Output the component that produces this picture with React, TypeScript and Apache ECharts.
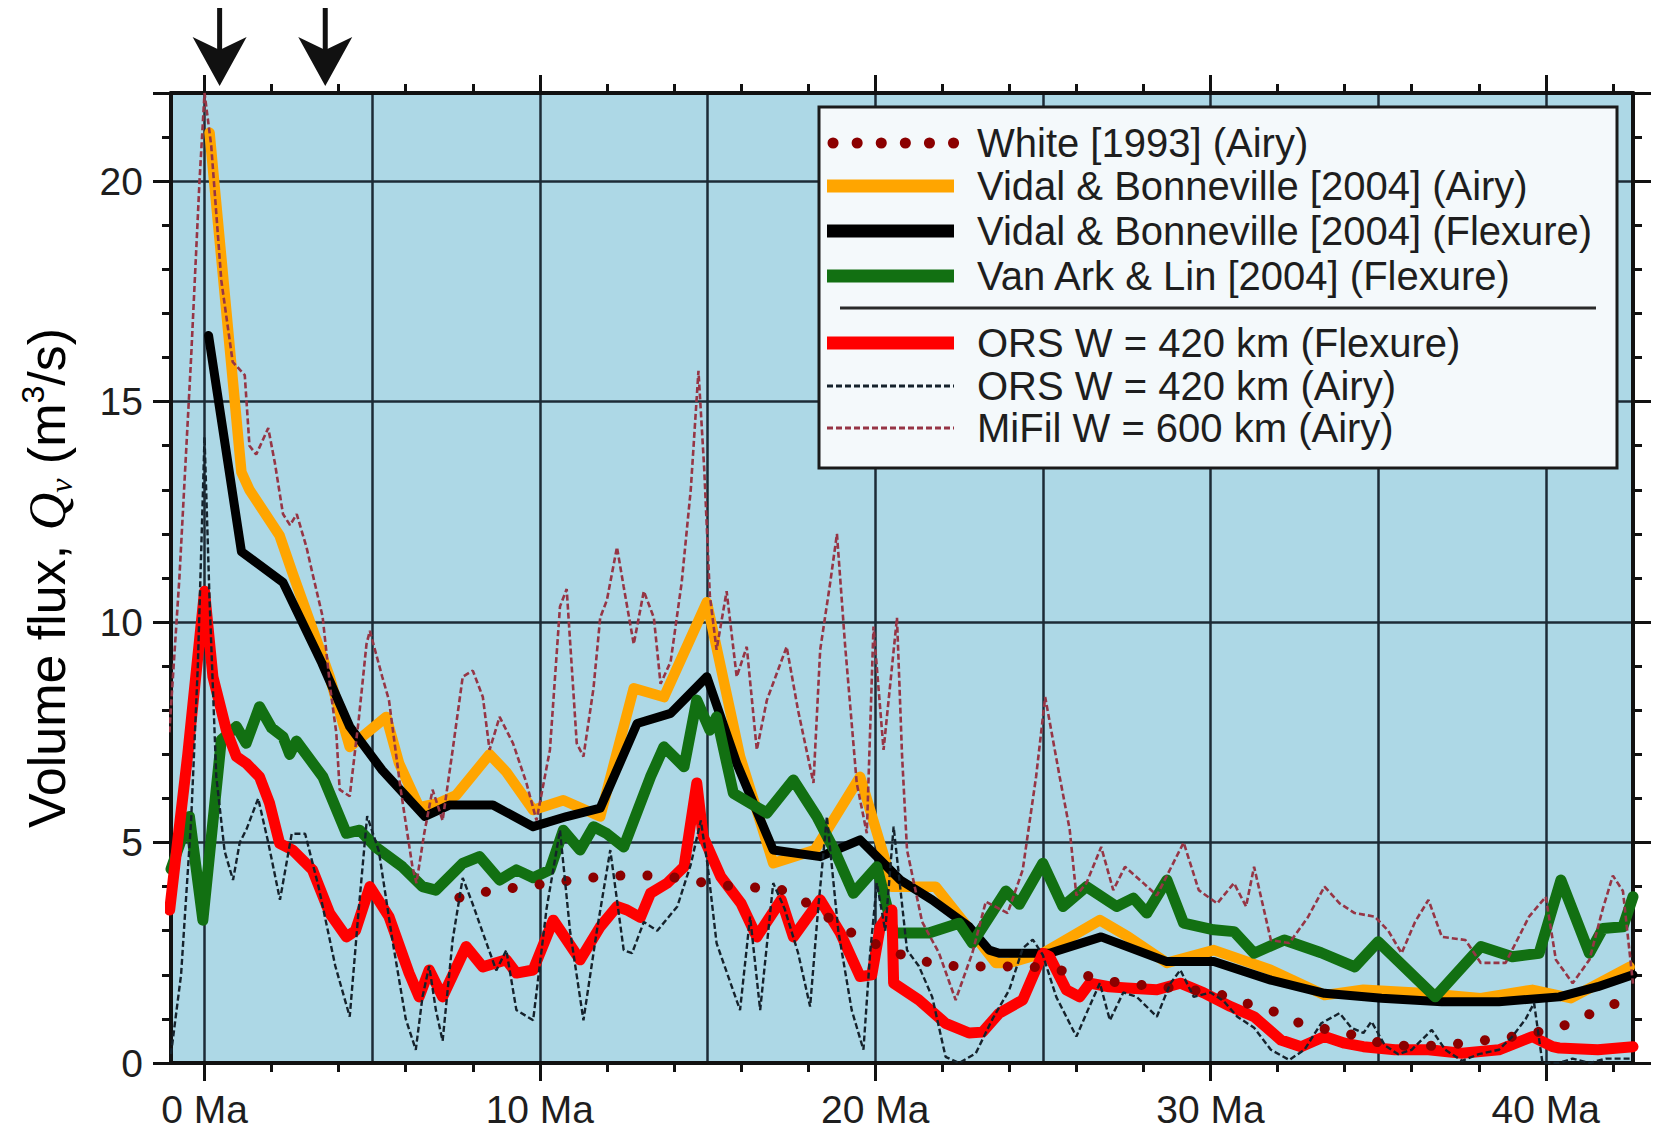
import React, { useEffect, useRef } from "react";
import * as echarts from "echarts";

type Pt = [number, number];

// Volume flux (m^3/s) against age (Ma) for each model
const WHITE_1993: Pt[] = [
  [7.6, 3.75], [8.5, 3.9], [9.5, 4.0], [10.5, 4.1], [11.5, 4.2], [12.4, 4.25], [13.3, 4.25],
  [14.1, 4.2], [14.8, 4.1], [15.6, 4.02], [16.4, 3.98], [17.2, 3.93], [17.9, 3.66], [18.6, 3.3],
  [19.3, 2.95], [20.0, 2.7], [20.8, 2.45], [21.5, 2.3], [22.3, 2.2], [23.1, 2.19], [23.9, 2.19],
  [24.7, 2.18], [25.4, 2.12], [26.2, 2.0], [27.0, 1.85], [27.8, 1.78], [28.6, 1.72], [29.4, 1.66],
  [30.2, 1.58], [30.9, 1.39], [31.8, 1.2], [32.5, 0.94], [33.3, 0.79], [34.1, 0.67], [34.8, 0.5],
  [35.5, 0.4], [36.4, 0.38], [37.2, 0.42], [38.0, 0.5], [38.8, 0.57], [39.6, 0.68], [40.4, 0.8],
  [41.1, 1.05], [41.8, 1.25], [42.5, 1.5],
];

const VB_AIRY: Pt[] = [
  [0.15, 21.1], [1.1, 13.4], [1.34, 13.0], [2.24, 11.96], [2.63, 11.1], [3.73, 8.76], [4.33, 7.17],
  [4.7, 7.4], [5.42, 7.85], [5.8, 6.8], [6.4, 5.8], [7.0, 5.9], [7.5, 6.07], [8.5, 7.0], [9.0, 6.6],
  [9.8, 5.74], [10.7, 5.96], [11.8, 5.59], [12.8, 8.5], [13.7, 8.3], [14.98, 10.45], [15.97, 6.95],
  [16.96, 4.53], [18.2, 4.83], [19.55, 6.49], [20.3, 4.6], [20.5, 4.0], [21.8, 4.0], [22.9, 2.95],
  [23.6, 2.27], [24.0, 2.27], [25.0, 2.49], [26.7, 3.24], [27.55, 2.86], [28.7, 2.27], [30.1, 2.56],
  [31.8, 2.11], [33.4, 1.54], [34.56, 1.66], [36.3, 1.59], [38.06, 1.47], [39.6, 1.66], [40.75, 1.47],
  [42.5, 2.18],
];

const VB_FLEX: Pt[] = [
  [0.12, 16.5], [1.1, 11.6], [2.34, 10.9], [3.5, 9.07], [4.33, 7.63], [5.3, 6.64], [6.57, 5.59],
  [7.3, 5.85], [8.6, 5.85], [9.8, 5.36], [10.8, 5.59], [11.8, 5.78], [12.9, 7.7], [13.9, 7.93],
  [14.98, 8.76], [15.87, 6.8], [16.96, 4.83], [18.36, 4.68], [19.55, 5.06], [20.75, 4.15], [21.7, 3.7],
  [22.8, 3.09], [23.4, 2.56], [23.7, 2.49], [24.7, 2.49], [25.2, 2.49], [26.74, 2.86], [28.7, 2.3],
  [30.1, 2.3], [31.8, 1.88], [33.4, 1.58], [35.1, 1.47], [36.9, 1.39], [38.6, 1.39], [40.4, 1.5],
  [41.55, 1.73], [42.6, 2.0],
];

const VANARK_FLEX: Pt[] = [
  [-1.0, 4.4], [-0.45, 5.59], [-0.05, 3.24], [0.5, 7.33], [0.95, 7.63], [1.24, 7.25], [1.64, 8.08],
  [2.0, 7.6], [2.34, 7.4], [2.54, 7.0], [2.74, 7.3], [3.53, 6.49], [4.23, 5.21], [4.63, 5.28],
  [5.1, 4.9], [5.9, 4.45], [6.5, 4.0], [6.9, 3.92], [7.7, 4.53], [8.2, 4.68], [8.8, 4.15], [9.3, 4.38],
  [9.8, 4.2], [10.3, 4.38], [10.7, 5.28], [11.2, 4.83], [11.6, 5.36], [12.0, 5.2], [12.5, 4.9],
  [13.3, 6.49], [13.7, 7.17], [14.3, 6.72], [14.68, 8.23], [15.07, 7.55], [15.27, 7.85], [15.77, 6.12],
  [16.77, 5.67], [17.56, 6.42], [18.26, 5.59], [18.8, 4.8], [19.35, 3.85], [20.05, 4.45], [20.55, 2.95],
  [21.6, 2.95], [22.5, 3.17], [22.9, 2.72], [23.9, 3.9], [24.3, 3.6], [25.0, 4.53], [25.6, 3.55],
  [26.3, 4.0], [27.2, 3.55], [27.7, 3.74], [28.1, 3.4], [28.7, 4.15], [29.2, 3.17], [30.1, 3.02],
  [30.7, 2.98], [31.3, 2.49], [32.2, 2.79], [33.3, 2.5], [34.3, 2.18], [35.0, 2.75], [36.7, 1.5],
  [38.06, 2.64], [39.0, 2.41], [39.8, 2.49], [40.45, 4.15], [41.3, 2.49], [41.7, 3.05], [42.3, 3.09],
  [42.6, 3.77],
];

const ORS_FLEX: Pt[] = [
  [-1.04, 3.47], [-0.5, 7.0], [0.0, 10.7], [0.25, 8.76], [0.65, 7.55], [0.95, 6.95], [1.24, 6.8],
  [1.64, 6.49], [1.94, 5.89], [2.24, 4.98], [2.63, 4.83], [3.22, 4.38], [3.73, 3.4], [4.23, 2.86],
  [4.5, 3.0], [4.93, 4.0], [5.5, 3.32], [6.1, 2.04], [6.4, 1.5], [6.7, 2.11], [7.1, 1.5], [7.8, 2.64],
  [8.3, 2.18], [9.0, 2.34], [9.3, 2.04], [9.8, 2.11], [10.4, 3.24], [11.2, 2.34], [11.8, 3.09],
  [12.3, 3.55], [12.6, 3.47], [13.0, 3.3], [13.3, 3.85], [13.8, 4.08], [14.3, 4.45], [14.68, 6.35],
  [14.87, 5.13], [15.4, 4.22], [16.0, 3.62], [16.47, 2.86], [17.2, 3.7], [17.56, 2.86], [18.36, 3.7],
  [18.96, 2.95], [19.55, 1.96], [19.9, 2.0], [20.15, 3.09], [20.5, 3.47], [20.55, 1.81], [21.3, 1.43],
  [22.1, 0.9], [22.8, 0.68], [23.2, 0.7], [23.7, 1.13], [24.4, 1.43], [25.0, 2.49], [25.2, 2.41],
  [25.7, 1.66], [26.1, 1.5], [26.4, 1.81], [26.97, 1.73], [27.5, 1.7], [28.4, 1.66], [29.1, 1.81],
  [29.8, 1.59], [30.6, 1.28], [31.3, 1.05], [32.1, 0.52], [32.7, 0.37], [33.4, 0.6], [34.0, 0.45],
  [34.56, 0.37], [35.5, 0.3], [36.5, 0.3], [37.5, 0.22], [38.6, 0.3], [39.6, 0.6], [40.2, 0.37],
  [40.4, 0.34], [41.55, 0.3], [42.6, 0.37],
];

const ORS_AIRY: Pt[] = [
  [-1.0, 0.2], [-0.7, 2.0], [-0.4, 5.5], [-0.2, 9.0], [0.0, 14.2], [0.15, 10.5], [0.35, 6.5],
  [0.6, 4.8], [0.85, 4.15], [1.05, 5.0], [1.25, 5.3], [1.6, 6.0], [1.9, 5.0], [2.25, 3.7], [2.6, 5.2],
  [3.0, 5.2], [3.4, 4.0], [3.9, 2.2], [4.33, 1.05], [4.6, 3.5], [4.85, 5.6], [5.2, 4.8], [5.6, 2.8],
  [6.0, 1.0], [6.3, 0.3], [6.5, 1.5], [6.7, 2.2], [6.9, 1.2], [7.1, 0.5], [7.4, 2.8], [7.7, 4.2],
  [8.0, 3.6], [8.3, 2.95], [8.7, 2.1], [9.0, 2.56], [9.3, 1.2], [9.8, 0.97], [10.2, 3.5], [10.6, 5.28],
  [10.9, 3.0], [11.3, 0.97], [11.7, 3.0], [12.1, 4.83], [12.5, 2.56], [12.75, 2.49], [13.1, 3.2],
  [13.5, 3.0], [14.1, 3.55], [14.5, 4.5], [14.8, 5.5], [15.0, 4.5], [15.27, 2.72], [15.6, 2.0],
  [15.97, 1.2], [16.27, 3.32], [16.57, 1.2], [16.96, 4.08], [17.3, 3.5], [17.7, 2.5], [18.06, 1.28],
  [18.3, 3.5], [18.56, 5.59], [18.9, 3.0], [19.3, 1.2], [19.65, 0.3], [19.85, 2.5], [20.05, 4.08],
  [20.3, 3.0], [20.55, 5.36], [20.95, 2.56], [21.3, 2.2], [21.7, 1.5], [22.1, 0.14], [22.5, 0.0],
  [23.0, 0.22], [23.5, 1.0], [24.0, 1.66], [24.4, 2.6], [24.7, 2.8], [25.0, 2.45], [25.4, 1.5],
  [26.0, 0.6], [26.4, 1.3], [26.7, 1.81], [27.0, 0.97], [27.4, 1.6], [27.8, 1.5], [28.4, 1.05],
  [28.8, 1.8], [29.1, 2.11], [29.5, 1.5], [30.0, 1.6], [30.4, 1.4], [30.8, 1.05], [31.3, 0.8],
  [31.8, 0.3], [32.35, 0.07], [32.8, 0.3], [33.3, 0.9], [33.85, 1.13], [34.2, 0.8], [34.56, 0.68],
  [34.8, 0.94], [35.2, 0.4], [35.6, 0.2], [36.0, 0.3], [36.6, 0.75], [37.0, 0.3], [37.5, 0.05],
  [38.0, 0.2], [38.6, 0.3], [39.0, 0.6], [39.4, 1.0], [39.65, 1.36], [39.9, 0.0], [40.4, 0.0],
  [40.8, 0.1], [41.3, 0.0], [41.8, 0.1], [42.6, 0.1],
];

const MIFIL_AIRY: Pt[] = [
  [-1.05, 7.5], [-0.75, 11.0], [-0.4, 16.0], [-0.15, 20.0], [0.0, 22.0], [0.2, 20.8], [0.5, 17.75],
  [0.84, 15.9], [1.2, 15.6], [1.34, 14.0], [1.54, 13.8], [1.9, 14.4], [2.1, 13.6], [2.34, 12.45],
  [2.55, 12.2], [2.75, 12.45], [3.04, 11.7], [3.22, 11.1], [3.52, 10.13], [3.75, 8.5], [3.93, 7.48],
  [4.03, 6.2], [4.33, 6.05], [4.6, 7.8], [4.83, 9.5], [4.93, 9.8], [5.3, 8.76], [5.5, 8.23],
  [5.85, 6.2], [6.2, 4.45], [6.32, 4.08], [6.55, 5.2], [6.8, 6.2], [7.1, 5.5], [7.4, 7.1], [7.7, 8.76],
  [8.0, 8.9], [8.3, 8.3], [8.5, 7.1], [8.8, 7.85], [9.2, 7.25], [9.6, 6.35], [9.9, 5.5], [10.3, 7.1],
  [10.6, 10.35], [10.8, 10.75], [11.1, 7.25], [11.3, 6.95], [11.6, 8.5], [11.8, 10.1], [12.0, 10.5],
  [12.3, 11.7], [12.5, 10.8], [12.8, 9.5], [13.1, 10.7], [13.4, 10.1], [13.6, 8.6], [13.9, 9.1],
  [14.23, 10.9], [14.5, 13.0], [14.73, 15.7], [14.9, 13.5], [15.07, 10.6], [15.27, 9.37],
  [15.57, 10.7], [15.87, 8.76], [16.17, 9.44], [16.47, 7.1], [16.77, 8.23], [17.36, 9.44], [17.7, 8.0],
  [18.16, 6.35], [18.36, 9.37], [18.66, 10.9], [18.86, 12.0], [19.1, 9.5], [19.45, 6.35], [19.75, 5.21],
  [19.95, 9.9], [20.25, 7.1], [20.65, 10.1], [20.8, 7.0], [20.95, 4.83], [21.4, 3.2], [21.9, 2.5],
  [22.4, 1.43], [22.9, 2.5], [23.3, 3.66], [23.95, 3.4], [24.4, 4.38], [24.8, 6.5], [25.07, 8.3],
  [25.5, 6.5], [25.8, 5.3], [26.0, 3.8], [26.3, 4.08], [26.74, 4.9], [27.1, 3.92], [27.45, 4.45],
  [28.0, 4.08], [28.4, 3.8], [28.8, 4.4], [29.2, 5.0], [29.65, 3.92], [30.2, 3.62], [30.7, 4.08],
  [31.06, 3.55], [31.3, 4.45], [31.8, 2.79], [32.35, 2.72], [32.9, 3.3], [33.4, 4.0], [33.85, 3.62],
  [34.3, 3.4], [34.9, 3.32], [35.3, 3.0], [35.7, 2.49], [36.1, 3.2], [36.5, 3.7], [36.9, 2.86],
  [37.6, 2.79], [38.06, 2.27], [38.8, 2.27], [39.5, 3.32], [40.0, 3.77], [40.3, 2.34], [40.8, 1.81],
  [41.3, 2.34], [41.7, 3.5], [42.0, 4.25], [42.3, 3.9], [42.6, 1.8],
];

// Axis ticks and labels
const AGE_LABELS = [0, 10, 20, 30, 40];
const AGE_MINOR = [2, 4, 6, 8, 12, 14, 16, 18, 22, 24, 26, 28, 32, 34, 36, 38, 42];
const ARROW_AGES = [0.45, 3.6];

const X_MIN = -1;
const X_MAX = 42.6;
const Y_MIN = 0;
const Y_MAX = 22;

const FONT = '"Liberation Sans", Arial, Helvetica, sans-serif';
const INK = "#1e1e1e";
const FRAME = "#111111";
const GRID_INK = "#1d2b36";

type LineKind = "dots" | "thick" | "dashed";
interface Model {
  name: string;
  data: Pt[];
  color: string;
  kind: LineKind;
  width: number;
  z: number;
}

const MODELS: Model[] = [
  { name: "White [1993] (Airy)", data: WHITE_1993, color: "#8b0000", kind: "dots", width: 10, z: 8 },
  { name: "Vidal & Bonneville [2004] (Airy)", data: VB_AIRY, color: "#ffa500", kind: "thick", width: 10.5, z: 3 },
  { name: "Vidal & Bonneville [2004] (Flexure)", data: VB_FLEX, color: "#000000", kind: "thick", width: 9, z: 4 },
  { name: "Van Ark & Lin [2004] (Flexure)", data: VANARK_FLEX, color: "#127012", kind: "thick", width: 11, z: 5 },
  { name: "ORS W = 420 km (Flexure)", data: ORS_FLEX, color: "#ff0000", kind: "thick", width: 11, z: 6 },
  { name: "ORS W = 420 km (Airy)", data: ORS_AIRY, color: "#15222c", kind: "dashed", width: 2.4, z: 9 },
  { name: "MiFil W = 600 km (Airy)", data: MIFIL_AIRY, color: "#963545", kind: "dashed", width: 2.6, z: 10 },
];

const DOT_DASH = [0.1, 27];
const THIN_DASH = [6, 3];

function lineStyleFor(m: Model) {
  if (m.kind === "dots") {
    return { color: m.color, width: m.width, type: DOT_DASH, cap: "round" as const };
  }
  if (m.kind === "dashed") {
    return { color: m.color, width: m.width, type: THIN_DASH };
  }
  return { color: m.color, width: m.width, join: "round" as const, cap: "round" as const };
}

export default function App() {
  const ref = useRef<HTMLDivElement>(null);

  useEffect(() => {
    if (!ref.current) return;
    const chart = echarts.init(ref.current, undefined, { renderer: "svg" });

    const xBase = { type: "value" as const, min: X_MIN, max: X_MAX, gridIndex: 0 };
    const tickStyle = { color: FRAME, width: 3 };
    const frameLine = { show: true, onZero: false, lineStyle: { color: FRAME, width: 4 } };
    const noLine = { show: false, onZero: false };

    const option: any = {
      animation: false,
      backgroundColor: "#ffffff",
      grid: {
        left: 171,
        top: 93,
        width: 1462,
        height: 970,
        show: true,
        backgroundColor: "#add8e6",
        borderWidth: 0,
      },
      xAxis: [
        {
          ...xBase,
          position: "bottom",
          axisLine: frameLine,
          axisTick: { show: true, customValues: AGE_LABELS, length: 18, lineStyle: tickStyle },
          axisLabel: {
            show: true,
            customValues: AGE_LABELS,
            formatter: (v: number) => `${v} Ma`,
            margin: 27,
            fontSize: 39,
            lineHeight: 38,
            fontFamily: FONT,
            color: INK,
          },
          splitLine: { show: false },
        },
        {
          ...xBase,
          position: "bottom",
          axisLine: noLine,
          axisTick: { show: true, customValues: AGE_MINOR, length: 9, lineStyle: tickStyle },
          axisLabel: { show: false },
          splitLine: { show: false },
        },
        {
          ...xBase,
          position: "top",
          axisLine: frameLine,
          axisTick: { show: true, customValues: AGE_LABELS, length: 18, lineStyle: tickStyle },
          axisLabel: { show: false },
          splitLine: { show: false },
        },
        {
          ...xBase,
          position: "top",
          axisLine: noLine,
          axisTick: { show: true, customValues: AGE_MINOR, length: 9, lineStyle: tickStyle },
          axisLabel: { show: false },
          splitLine: { show: false },
        },
        {
          ...xBase,
          position: "bottom",
          splitNumber: 9,
          axisLine: noLine,
          axisTick: { show: false },
          axisLabel: { show: false },
          splitLine: { show: true, lineStyle: { color: GRID_INK, width: 2.5 } },
        },
      ],
      yAxis: [
        {
          type: "value",
          min: Y_MIN,
          max: Y_MAX,
          interval: 5,
          position: "left",
          axisLine: frameLine,
          axisTick: { show: true, length: 18, lineStyle: tickStyle },
          minorTick: { show: true, splitNumber: 5, length: 9, lineStyle: tickStyle },
          axisLabel: {
            fontSize: 39,
            fontFamily: FONT,
            color: INK,
            margin: 28,
            showMaxLabel: false,
          },
          splitLine: { show: true, lineStyle: { color: GRID_INK, width: 2.5 } },
        },
        {
          type: "value",
          min: Y_MIN,
          max: Y_MAX,
          interval: 5,
          position: "right",
          axisLine: frameLine,
          axisTick: { show: true, length: 18, lineStyle: tickStyle },
          minorTick: { show: true, splitNumber: 5, length: 9, lineStyle: tickStyle },
          axisLabel: { show: false },
          splitLine: { show: false },
        },
      ],
      series: MODELS.map((m) => ({
        type: "line",
        name: m.name,
        data: m.data,
        xAxisIndex: 0,
        yAxisIndex: 0,
        showSymbol: false,
        symbol: "none",
        silent: true,
        z: m.z,
        lineStyle: lineStyleFor(m),
      })),
    };

    chart.setOption(option);

    // Legend panel, axis title and arrows drawn as graphic elements
    const legendLeft = 819;
    const legendTop = 107;
    const rowY = [143, 186, 231, 276, 343, 386, 428];
    const separatorY = 308;
    const swatchX0 = 827;
    const swatchX1 = 954;
    const textX = 977;

    const legendChildren: any[] = [
      {
        type: "rect",
        shape: { x: legendLeft, y: legendTop, width: 798, height: 361 },
        style: { fill: "#f4f9fb", stroke: "#1a1a1a", lineWidth: 3 },
      },
      {
        type: "line",
        shape: { x1: 840, y1: separatorY, x2: 1596, y2: separatorY },
        style: { stroke: "#2a2a2a", lineWidth: 3 },
      },
    ];
    MODELS.forEach((m, i) => {
      const y = rowY[i];
      let style: any;
      if (m.kind === "dots") {
        style = { stroke: m.color, lineWidth: 11, lineDash: [0.1, 24], lineCap: "round" };
      } else if (m.kind === "dashed") {
        style = { stroke: m.color, lineWidth: 3, lineDash: THIN_DASH };
      } else {
        style = { stroke: m.color, lineWidth: 13 };
      }
      legendChildren.push({
        type: "line",
        shape: { x1: m.kind === "dots" ? swatchX0 + 6 : swatchX0, y1: y, x2: swatchX1, y2: y },
        style,
      });
      legendChildren.push({
        type: "text",
        x: textX,
        y,
        style: {
          text: m.name,
          fill: INK,
          font: `40px ${FONT}`,
          fontSize: 40,
          fontFamily: FONT,
          align: "left",
          verticalAlign: "middle",
          textAlign: "left",
          textVerticalAlign: "middle",
        },
      });
    });

    const title = {
      type: "text",
      x: 47,
      y: 578,
      rotation: Math.PI / 2,
      style: {
        text: "{a|Volume flux, }{q|Q}{sub|v}{a| (m}{sup|3}{a|/s)}",
        align: "center",
        verticalAlign: "middle",
        textAlign: "center",
        textVerticalAlign: "middle",
        rich: {
          a: { fontSize: 52, fontFamily: FONT, color: INK, lineHeight: 60 },
          q: {
            fontSize: 52,
            fontFamily: '"Liberation Serif", "DejaVu Serif", serif',
            fontStyle: "italic",
            color: INK,
            lineHeight: 60,
          },
          sub: {
            fontSize: 32,
            fontFamily: '"Liberation Serif", "DejaVu Serif", serif',
            fontStyle: "italic",
            color: INK,
            lineHeight: 36,
            verticalAlign: "bottom",
          },
          sup: { fontSize: 32, fontFamily: FONT, color: INK, lineHeight: 36, verticalAlign: "top" },
        },
      },
    };

    const arrows = ARROW_AGES.map((age) => {
      const px = chart.convertToPixel({ xAxisIndex: 0 }, age) as number;
      return {
        type: "group",
        x: px,
        y: 0,
        children: [
          { type: "rect", shape: { x: -2.5, y: 8, width: 5, height: 42 }, style: { fill: "#111" } },
          {
            type: "polygon",
            shape: { points: [[-27, 37], [0, 50], [27, 37], [0, 86]] },
            style: { fill: "#111" },
          },
        ],
      };
    });

    chart.setOption({
      graphic: [
        { type: "group", z: 100, children: legendChildren },
        title,
        ...arrows,
      ],
    });

    return () => {
      chart.dispose();
    };
  }, []);

  return (
    <div
      ref={ref}
      style={{ position: "absolute", left: 0, top: 0, width: 1663, height: 1131, background: "#fff" }}
    />
  );
}
